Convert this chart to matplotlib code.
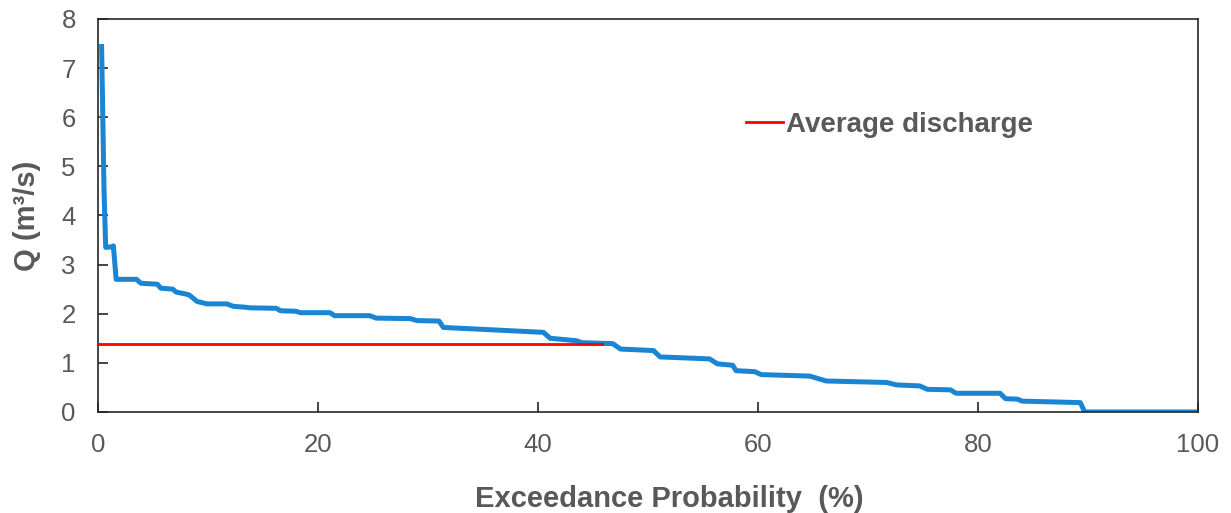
import matplotlib
matplotlib.use("Agg")
import matplotlib.pyplot as plt

# Flow duration curve
exceedance = [0.33, 0.55, 0.7, 1.2, 1.4, 1.65, 3.5, 3.9, 5.4, 5.7, 6.8, 7.1, 8.0, 8.3, 9.0,
              9.9, 11.7, 12.3, 13.5, 13.8, 16.2, 16.6, 18.0, 18.4, 21.1, 21.5, 24.7, 25.3,
              28.4, 29.0, 31.0, 31.4, 36.0, 40.5, 41.1, 43.5, 44.0, 46.8, 47.5, 50.5, 51.1,
              55.6, 56.3, 57.7, 58.0, 59.7, 60.3, 64.7, 66.2, 71.7, 72.6, 74.7, 75.4, 77.5,
              78.0, 82.0, 82.5, 83.6, 84.0, 89.3, 89.7, 100.0]
discharge = [7.44, 4.5, 3.35, 3.36, 3.38, 2.7, 2.7, 2.62, 2.6, 2.52, 2.5, 2.44, 2.4, 2.38, 2.25,
             2.2, 2.2, 2.15, 2.13, 2.12, 2.11, 2.06, 2.05, 2.02, 2.02, 1.96, 1.96, 1.91,
             1.9, 1.86, 1.85, 1.72, 1.67, 1.62, 1.5, 1.45, 1.41, 1.39, 1.28, 1.25, 1.12,
             1.08, 0.98, 0.95, 0.84, 0.82, 0.76, 0.73, 0.63, 0.6, 0.55, 0.53, 0.46, 0.45,
             0.38, 0.38, 0.27, 0.26, 0.22, 0.19, 0.0, 0.0]

avg_x = [0.0, 45.8]
avg_q = [1.38, 1.38]

xticks = [0, 20, 40, 60, 80, 100]
yticks = [0, 1, 2, 3, 4, 5, 6, 7, 8]

plt.rcParams['font.family'] = ['Liberation Sans', 'DejaVu Sans']
gray = '#595959'

fig = plt.figure(figsize=(12.31, 5.13), dpi=100)
ax = fig.add_axes([0.0796, 0.197, 0.8936, 0.766])

ax.plot(exceedance, discharge, color='#1a85d3', lw=3.6, solid_joinstyle='round', zorder=2)
ax.plot(avg_x, avg_q, color='#ff0000', lw=2.0, label='Average discharge', zorder=3)

ax.set_xlim(0, 100)
ax.set_ylim(0, 8)
ax.set_xticks(xticks)
ax.set_yticks(yticks)
ax.tick_params(direction='in', length=7, width=1.2, colors='#262626',
               labelcolor=gray, labelsize=18.5)
ax.tick_params(axis='x', pad=15.5)
ax.tick_params(axis='y', pad=16)
for s in ax.spines.values():
    s.set_color('#262626')
    s.set_linewidth(1.2)

ax.set_xlabel('Exceedance Probability  (%)', fontsize=21, fontweight='bold', color=gray, labelpad=20)
ax.xaxis.label.set_x(0.519)
ax.set_ylabel('Q (m³/s)', fontsize=21, fontweight='bold', color=gray, labelpad=15)

leg = ax.legend(loc='center left', bbox_to_anchor=(0.566, 0.730), frameon=False,
                handlelength=1.35, handletextpad=0.12,
                prop={'weight': 'bold', 'size': 20})
for t in leg.get_texts():
    t.set_color(gray)

fig.savefig('out.png', dpi=100)
